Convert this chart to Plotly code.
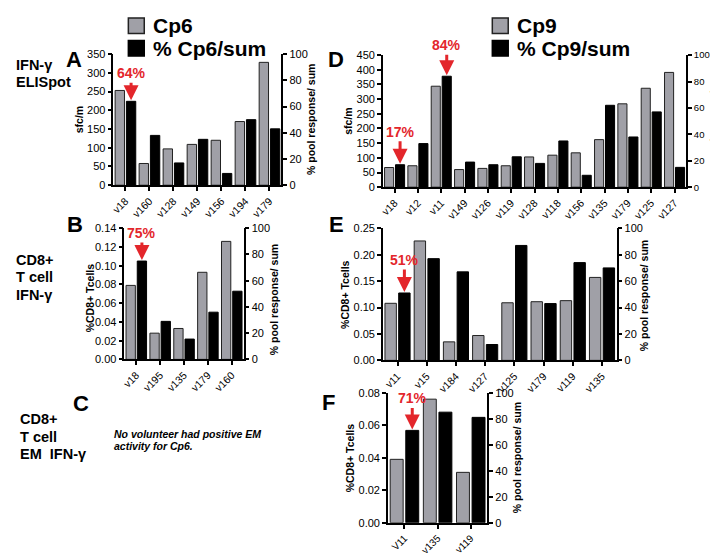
import plotly.graph_objects as go

# ---------------- data ----------------
a_cats = ["v18", "v160", "v128", "v149", "v156", "v194", "v179"]
a_sfc = [253, 58, 97, 109, 120, 170, 328]
a_pct = [64, 38, 17, 35, 9, 50, 43]

d_cats = ["v18", "v12", "v11", "v149", "v126", "v119", "v128", "v118", "v156", "v135", "v179", "v125", "v127"]
d_sfc = [67, 73, 344, 60, 64, 73, 103, 109, 117, 162, 284, 337, 391]
d_pct = [17, 33, 84, 19, 17, 23, 18, 35, 9, 62, 38, 57, 15]

b_cats = ["v18", "v195", "v135", "v179", "v160"]
b_cd8 = [0.079, 0.028, 0.033, 0.093, 0.126]
b_pct = [75, 29, 15.5, 36, 52]

e_cats = ["v11", "v15", "v184", "v127", "v125", "v179", "v119", "v135"]
e_cd8 = [0.108, 0.226, 0.035, 0.047, 0.109, 0.111, 0.113, 0.157]
e_pct = [51, 77, 67, 12, 87, 43, 74, 70]

f_cats = ["V11", "v135", "v119"]
f_cd8 = [0.039, 0.076, 0.031]
f_pct = [71, 85, 81]

row_labels = [["IFN-γ", "ELISpot"], ["CD8+", "T cell", "IFN-γ"], ["CD8+", "T cell", "EM  IFN-γ"]]
note_lines = ["No volunteer had positive EM", "activity for Cp6."]

W, H = 718, 556
GRAY = "#A0A0A7"
RED = "#E3262B"
FONT = "Arial, Liberation Sans, sans-serif"

def px(x):
    return x / W

def py(y):
    return 1 - y / H

# panel: (cats, left vals, right vals, left max, left dtick, fmt, box(l,r,t,b), xtick size, right tick size)
panels = [
    (a_cats, a_sfc, a_pct, 350, 50, "d", (102, 271, 41, 175), 10.5, 11),
    (d_cats, d_sfc, d_pct, 450, 50, "d", (373, 678, 42, 177), 10.5, 9.5),
    (b_cats, b_cd8, b_pct, 0.14, 0.02, ".2f", (113, 233, 219, 353), 10.5, 11),
    (e_cats, e_cd8, e_pct, 0.25, 0.05, ".2f", (373, 608, 219, 354), 10.5, 11),
    (f_cats, f_cd8, f_pct, 0.08, 0.02, ".2f", (378, 478, 387, 520), 10, 11),
]

fig = go.Figure()
layout = {}
tickfont = dict(family=FONT, size=11, color="black")
for k, (cats, lv, rv, lmax, ldt, fmt, box, xts, rts) in enumerate(panels, start=1):
    l, r, t, b = box
    xn = "x" if k == 1 else f"x{k}"
    yl = "y" if k == 1 else f"y{2*k-1}"
    yr = f"y{2*k}"
    n = len(cats)
    xs = list(range(n))
    fig.add_trace(go.Bar(x=xs, y=lv, xaxis=xn, yaxis=yl, offset=-0.43, width=0.39,
                         marker=dict(color=GRAY, line=dict(color="#222", width=1)),
                         showlegend=False))
    fig.add_trace(go.Bar(x=xs, y=rv, xaxis=xn, yaxis=yr, offset=0.04, width=0.39,
                         marker=dict(color="black", line=dict(color="black", width=1)),
                         showlegend=False))
    layout["xaxis" if k == 1 else f"xaxis{k}"] = dict(
        domain=[px(l), px(r)], anchor=yl, range=[-0.5, n - 0.5],
        tickmode="array", tickvals=xs, ticktext=cats, tickangle=-45,
        showline=True, linecolor="black", linewidth=1.5, ticks="outside",
        ticklen=4, tickwidth=1.5, tickcolor="black", showgrid=False, zeroline=False,
        tickfont=dict(family=FONT, size=xts, color="black"))
    layout["yaxis" if k == 1 else f"yaxis{2*k-1}"] = dict(
        domain=[py(b), py(t)], anchor=xn, range=[0, lmax], dtick=ldt, tick0=0,
        tickformat=fmt, showline=True, linecolor="black", linewidth=1.5,
        ticks="outside", ticklen=4, tickwidth=1.5, tickcolor="black",
        showgrid=False, zeroline=False, tickfont=tickfont)
    layout[f"yaxis{2*k}"] = dict(
        domain=[py(b), py(t)], anchor=xn, overlaying=yl, side="right",
        range=[0, 100], dtick=20, tick0=0, showline=True, linecolor="black",
        linewidth=1.5, ticks="outside", ticklen=4, tickwidth=1.5, tickcolor="black",
        showgrid=False, zeroline=False,
        tickfont=dict(family=FONT, size=rts, color="black"))

ann = []
def text(x, y, s, size=10, bold=True, italic=False, angle=0, xanchor="center",
         yanchor="middle", color="black"):
    if bold:
        s = f"<b>{s}</b>"
    if italic:
        s = f"<i>{s}</i>"
    ann.append(dict(x=px(x), y=py(y), xref="paper", yref="paper", text=s,
                    showarrow=False, textangle=angle, xanchor=xanchor, yanchor=yanchor,
                    borderpad=0, font=dict(family=FONT, size=size, color=color)))

# axis titles
text(67, 108, "sfc/m", size=10.5, angle=-90)
text(300, 108, "% pool response/ sum", size=10.5, angle=-90)
text(338, 110, "sfc/m", size=10.5, angle=-90)
text(706, 108, "% pool response/ sum", size=9.5, angle=-90)
text(78, 290, "%CD8+ Tcells", size=10.5, angle=-90)
text(263, 292, "% pool response/ sum", size=10.5, angle=-90)
text(335, 287, "%CD8+ Tcells", size=10.5, angle=-90)
text(635, 288, "% pool response/ sum", size=10.5, angle=-90)
text(340, 454, "%CD8+ Tcells", size=10.5, angle=-90)
text(508, 454, "% pool response/ sum", size=10.5, angle=-90)

# panel letters
for lt, x, y in [("A", 62, 46), ("D", 326, 46), ("B", 63, 215), ("E", 326, 215),
                 ("C", 69, 398), ("F", 318, 397)]:
    text(x, y, lt, size=22)

# row labels (one annotation per line)
for lines, x0, y0 in [(row_labels[0], 3, 52), (row_labels[1], 3, 251), (row_labels[2], 7, 414)]:
    for i, s in enumerate(lines):
        text(x0, y0 + 18 * i, s, size=14.5, xanchor="left")

# panel C note
for i, s in enumerate(note_lines):
    text(102, 429 + 12.5 * i, s, size=10.5, italic=True, xanchor="left")

# legends
shapes = []
for (x0, label) in [(117, "Cp6"), (483, "Cp9")]:
    shapes.append(dict(type="rect", xref="paper", yref="paper", x0=px(x0), x1=px(x0 + 16),
                       y0=py(20), y1=py(4), fillcolor=GRAY, line=dict(color="#222", width=1.5)))
    shapes.append(dict(type="rect", xref="paper", yref="paper", x0=px(x0), x1=px(x0 + 16),
                       y0=py(43), y1=py(27), fillcolor="black", line=dict(color="black", width=1.5)))
    text(x0 + 24, 12, label, size=21, xanchor="left")
    text(x0 + 24, 35, f"% {label}/sum", size=21, xanchor="left")

# red arrows
def arrow(xaxis, yaxis, xv, yv, s, ay):
    ann.append(dict(x=xv, y=yv, xref=xaxis, yref=yaxis, text=f"<b>{s}</b>",
                    showarrow=True, arrowhead=2, arrowsize=1, arrowwidth=3,
                    arrowcolor=RED, ax=0, ay=ay, standoff=1,
                    font=dict(family=FONT, size=14, color=RED)))

arrow("x", "y2", 0.235, a_pct[0], "64%", -28)
arrow("x2", "y4", 0.235, d_pct[0], "17%", -33)
arrow("x2", "y4", 2.235, d_pct[2], "84%", -31)
arrow("x3", "y6", 0.235, b_pct[0], "75%", -28)
arrow("x4", "y8", 0.235, e_pct[0], "51%", -33)
arrow("x5", "y10", 0.235, f_pct[0], "71%", -32)

fig.update_layout(width=W, height=H, margin=dict(l=0, r=0, t=0, b=0),
                  paper_bgcolor="white", plot_bgcolor="white", barmode="overlay",
                  annotations=ann, shapes=shapes, showlegend=False, **layout)

fig.write_html("out.html")
